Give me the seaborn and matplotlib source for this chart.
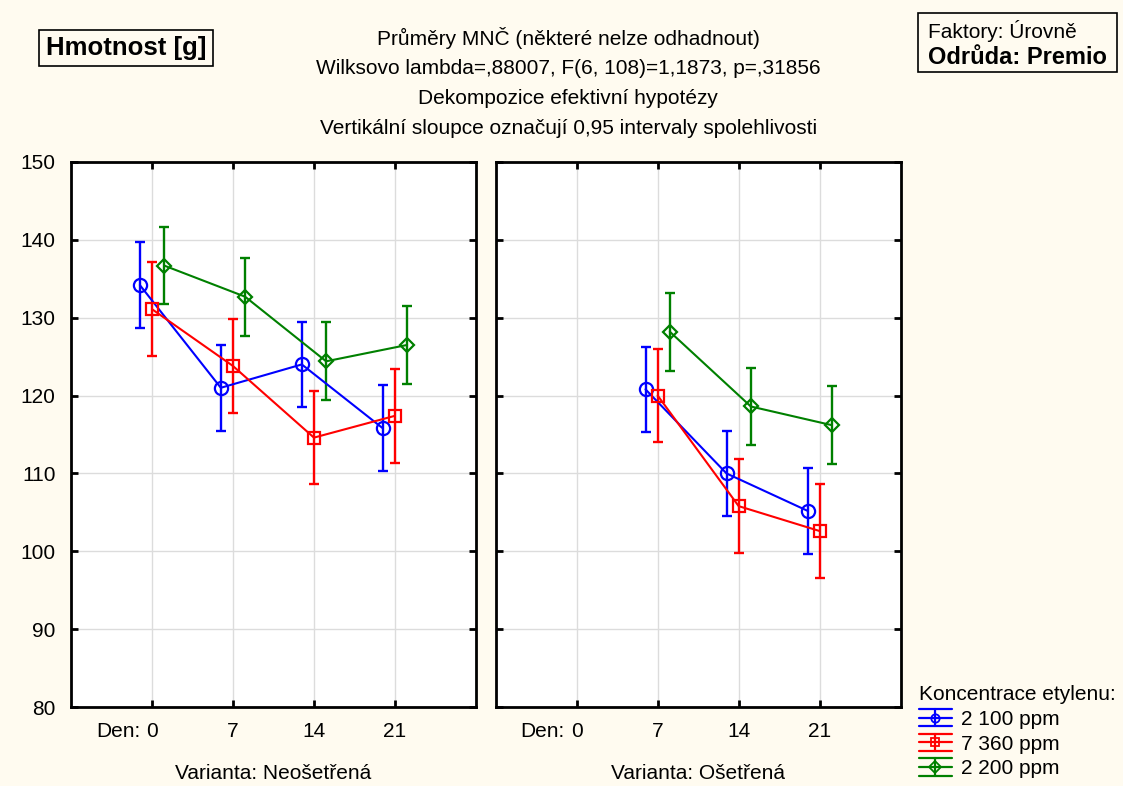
import pandas as pd
import matplotlib.pyplot as plt
import seaborn as sns
from matplotlib.legend_handler import HandlerBase
from matplotlib.lines import Line2D

# --- data ---
days = ["0", "7", "14", "21"]
groups = ["2 100 ppm", "7 360 ppm", "2 200 ppm"]
variants = ["Neošetřená", "Ošetřená"]

# means per group, per day (None = not estimable)
neo_mean = {
    "2 100 ppm": [134.2, 121.0, 124.0, 115.8],
    "7 360 ppm": [131.1, 123.8, 114.6, 117.4],
    "2 200 ppm": [136.7, 132.7, 124.4, 126.5],
}
neo_ci = {
    "2 100 ppm": [5.5, 5.5, 5.5, 5.5],
    "7 360 ppm": [6.0, 6.0, 6.0, 6.0],
    "2 200 ppm": [5.0, 5.0, 5.0, 5.0],
}
ose_mean = {
    "2 100 ppm": [None, 120.8, 110.0, 105.2],
    "7 360 ppm": [None, 120.0, 105.8, 102.6],
    "2 200 ppm": [None, 128.2, 118.6, 116.2],
}
ose_ci = {
    "2 100 ppm": [None, 5.5, 5.5, 5.5],
    "7 360 ppm": [None, 6.0, 6.0, 6.0],
    "2 200 ppm": [None, 5.0, 5.0, 5.0],
}

colors = {"2 100 ppm": "#0000FF", "7 360 ppm": "#FF0000", "2 200 ppm": "#008000"}
markers = {"2 100 ppm": "o", "7 360 ppm": "s", "2 200 ppm": "D"}
msizes = {"2 100 ppm": 9.5, "7 360 ppm": 9, "2 200 ppm": 7}
offsets = {"2 100 ppm": -0.15, "7 360 ppm": 0.0, "2 200 ppm": 0.15}

rows = []
for variant, means, cis in [(variants[0], neo_mean, neo_ci), (variants[1], ose_mean, ose_ci)]:
    for g in groups:
        for i, d in enumerate(days):
            if means[g][i] is None:
                continue
            rows.append({"Varianta": variant, "Den": d, "pos": i + offsets[g],
                         "Skupina": g, "mean": means[g][i], "ci": cis[g][i]})
df = pd.DataFrame(rows)


class EbKey:
    def __init__(self, color, marker):
        self.color = color
        self.marker = marker


class EbHandler(HandlerBase):
    # legend key drawn like the original: line, wide caps, vertical bar, small marker
    def create_artists(self, legend, orig, xdescent, ydescent, width, height,
                       fontsize, trans):
        cy = height / 2 - ydescent
        x0, x1 = -xdescent, width - xdescent
        xm = (x0 + x1) / 2
        h = 0.6 * height
        kw = dict(color=orig.color, linewidth=1.6, transform=trans)
        arts = [
            Line2D([x0, x1], [cy, cy], **kw),
            Line2D([x0, x1], [cy + h, cy + h], **kw),
            Line2D([x0, x1], [cy - h, cy - h], **kw),
            Line2D([xm, xm], [cy - h, cy + h], **kw),
            Line2D([xm], [cy], marker=orig.marker, markersize=6, mfc="none",
                   mec=orig.color, mew=1.3, linestyle="none", transform=trans),
        ]
        return arts


sns.set_theme(style="white")
plt.rcParams["font.family"] = ["Liberation Sans", "DejaVu Sans"]
plt.rcParams["text.color"] = "black"
plt.rcParams["xtick.color"] = "black"
plt.rcParams["ytick.color"] = "black"

FS = 15
bg = "#FFFBF0"
fig = plt.figure(figsize=(11.23, 7.86), dpi=100, facecolor=bg)
ax_l = fig.add_axes([0.0632, 0.1005, 0.3606, 0.6934])
ax_r = fig.add_axes([0.4414, 0.1005, 0.3606, 0.6934])

for ax, variant in [(ax_l, variants[0]), (ax_r, variants[1])]:
    sub = df[df["Varianta"] == variant]
    ax.set_facecolor("white")
    sns.lineplot(data=sub, x="pos", y="mean", hue="Skupina", style="Skupina",
                 hue_order=groups, style_order=groups, palette=colors,
                 markers=markers, dashes=False, errorbar=None, sort=False,
                 linewidth=1.5, legend=False, ax=ax, zorder=3)
    for line, g in zip(ax.lines, groups):
        line.set_markerfacecolor("none")
        line.set_markeredgecolor(colors[g])
        line.set_markeredgewidth(1.6)
        line.set_markersize(msizes[g])
    for g in groups:
        s = sub[sub["Skupina"] == g]
        ax.errorbar(s["pos"], s["mean"], yerr=s["ci"], fmt="none",
                    ecolor=colors[g], elinewidth=1.7, capsize=3.5,
                    capthick=1.7, zorder=2)

    ax.set_xlim(-1, 4)
    ax.set_ylim(80, 150)
    ax.set_xticks(range(len(days)))
    ax.set_xticklabels(days)
    ax.set_yticks(range(80, 151, 10))
    ax.grid(True, color="#DCDCDC", linewidth=1)
    ax.set_axisbelow(True)
    ax.tick_params(direction="in", length=5, width=2, top=True, right=True,
                   bottom=True, left=True, labelsize=FS, pad=11)
    for sp in ax.spines.values():
        sp.set_visible(True)
        sp.set_color("black")
        sp.set_linewidth(2)
    ax.set_xlabel("")
    ax.set_ylabel("")
    ax.annotate("Den:", xy=(-0.42, 0), xycoords=ax.get_xaxis_transform(),
                xytext=(0, -11), textcoords="offset points",
                ha="center", va="top", fontsize=FS)
    ax.text(0.5, -0.105, "Varianta: " + variant, transform=ax.transAxes,
            ha="center", va="top", fontsize=FS)

ax_r.tick_params(labelleft=False)

# titles
title_lines = [
    "Průměry MNČ (některé nelze odhadnout)",
    "Wilksovo lambda=,88007, F(6, 108)=1,1873, p=,31856",
    "Dekompozice efektivní hypotézy",
    "Vertikální sloupce označují 0,95 intervaly spolehlivosti",
]
for i, t in enumerate(title_lines):
    fig.text(0.506, 1 - (38 + 30 * i) / 786, t, ha="center", va="center", fontsize=FS)

fig.text(0.0407, 1 - 48 / 786, "Hmotnost [g]", ha="left", va="center",
         fontsize=18.5, fontweight="bold",
         bbox=dict(boxstyle="square,pad=0.25", facecolor=bg, edgecolor="black", linewidth=1.2))

fig.text(0.8265, 1 - 31 / 786, "Faktory: Úrovně", ha="left", va="center", fontsize=FS)
fig.text(0.8265, 1 - 58 / 786, "Odrůda: Premio", ha="left", va="center",
         fontsize=17, fontweight="bold")
fig.patches.append(plt.Rectangle((918 / 1123, 1 - 72 / 786), 199 / 1123, 59 / 786,
                                 transform=fig.transFigure, fill=False,
                                 edgecolor="black", linewidth=1.2))

# legend with errorbar-style keys
keys = [EbKey(colors[g], markers[g]) for g in groups]
leg = fig.legend(keys, groups, title="Koncentrace etylenu:",
                 handler_map={EbKey: EbHandler()},
                 loc="lower left", bbox_to_anchor=(0.807, -0.006), frameon=False,
                 fontsize=FS, title_fontsize=FS, handlelength=1.6,
                 handletextpad=0.45, labelspacing=0.27, borderaxespad=0.2)
leg._legend_box.align = "left"

fig.savefig("out.png", dpi=100, facecolor=bg)
